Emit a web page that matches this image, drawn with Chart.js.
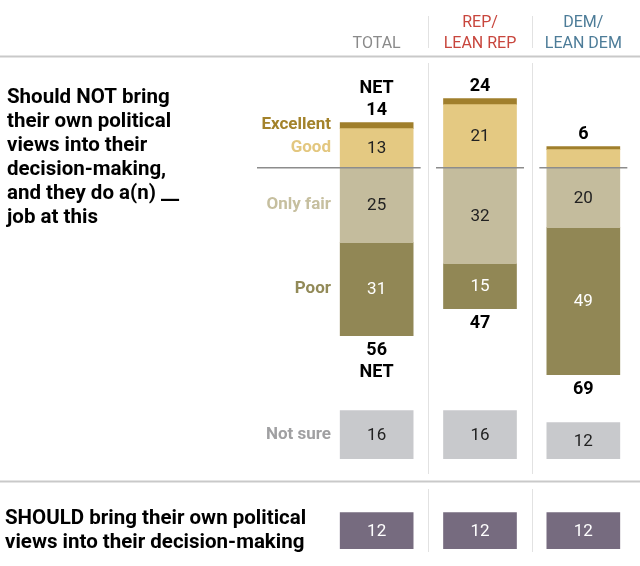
<!DOCTYPE html>
<html>
<head>
<meta charset="utf-8">
<script src="https://cdn.jsdelivr.net/npm/chart.js@4/dist/chart.umd.min.js"></script>
<style>
  html, body { margin: 0; padding: 0; background: #fff; }
  #wrap { width: 640px; height: 566px; }
</style>
</head>
<body>
<div id="wrap"><canvas id="chart" width="640" height="566"></canvas></div>
<script>
// ─── DADOS ────────────────────────────────────────────────────────────────
const groups      = ['TOTAL', 'REP/\nLEAN REP', 'DEM/\nLEAN DEM'];
const excellent   = [2, 2, 1];
const good        = [13, 21, 6];
const onlyFair    = [25, 32, 20];
const poor        = [31, 15, 49];
const netGood     = [14, 24, 6];
const netBad      = [56, 47, 69];
const notSure     = [16, 16, 12];
const shouldBring = [12, 12, 12];

const questionLines = ['Should NOT bring', 'their own political', 'views into their',
                       'decision-making,', 'and they do a(n) __', 'job at this'];
const shouldLines   = ['SHOULD bring their own political', 'views into their decision-making'];

// ─── LAYOUT / ESTILO ──────────────────────────────────────────────────────
const Y_MAX = 55.9, Y_MIN = -132.8;       // escala: 3px por ponto, zero em y≈168
const NOT_SURE_BASE = -97;
const SHOULD_BASE   = -127;
const BAR_W = 73;
const FONT = 'Roboto, "Noto Sans", sans-serif';
const headColors = ['#8a8a8a', '#c8463d', '#4d7c98'];
const C = {
  excellent: '#a07f2c', good: '#e4c982', fair: '#c4bc9d', poor: '#918755',
  notSure: '#c8c9cc', should: '#766b7f', grid: '#e2e2e2', rule: '#c9c9c9', base: '#8c8c8c',
};

const floating = (arr, fn) => arr.map(fn);
const common = { grouped: false, barThickness: BAR_W, borderWidth: 0, borderSkipped: false };

const datasets = [
  { ...common, key: 'good',      backgroundColor: C.good,      labelColor: '#222',
    data: floating(good, v => [0, v]) },
  { ...common, key: 'excellent', backgroundColor: C.excellent, labelColor: null,
    data: floating(good, (g, i) => [g, g + excellent[i]]) },
  { ...common, key: 'fair',      backgroundColor: C.fair,      labelColor: '#222',
    data: floating(onlyFair, v => [-v, 0]) },
  { ...common, key: 'poor',      backgroundColor: C.poor,      labelColor: '#fff',
    data: floating(poor, (p, i) => [-onlyFair[i] - p, -onlyFair[i]]) },
  { ...common, key: 'notSure',   backgroundColor: C.notSure,   labelColor: '#222',
    data: floating(notSure, v => [NOT_SURE_BASE, NOT_SURE_BASE + v]) },
  { ...common, key: 'should',    backgroundColor: C.should,    labelColor: '#fff',
    data: floating(shouldBring, v => [SHOULD_BASE, SHOULD_BASE + v]) },
];
const valueOf = [good, excellent, onlyFair, poor, notSure, shouldBring];

// ─── HELPERS ──────────────────────────────────────────────────────────────
function line(ctx, x1, y1, x2, y2, color, w) {
  ctx.beginPath();
  ctx.strokeStyle = color;
  ctx.lineWidth = w;
  ctx.moveTo(x1, y1);
  ctx.lineTo(x2, y2);
  ctx.stroke();
}
function text(ctx, s, x, y, font, color, align, base) {
  ctx.font = font;
  ctx.fillStyle = color;
  ctx.textAlign = align || 'center';
  ctx.textBaseline = base || 'middle';
  ctx.fillText(s, x, y);
}
const bar = (chart, di, i) => chart.getDatasetMeta(di).data[i];

// ─── PLUGIN: moldura, cabeçalho, rótulos ─────────────────────────────────
const decor = {
  id: 'decor',
  beforeDatasetsDraw(chart) {
    const ctx = chart.ctx, xs = chart.scales.x;
    const cx = groups.map((g, i) => xs.getPixelForValue(i));
    ctx.save();
    // separadores verticais
    for (let i = 0; i < cx.length - 1; i++) {
      const mx = Math.round((cx[i] + cx[i + 1]) / 2) + 0.5;
      line(ctx, mx, 16, mx, 48, C.grid, 1);
      line(ctx, mx, 63, mx, 474, C.grid, 1);
      line(ctx, mx, 489, mx, 552, C.grid, 1);
    }
    // linhas horizontais
    line(ctx, 0, 56.5, 640, 56.5, C.rule, 2);
    line(ctx, 0, 481.5, 640, 481.5, C.rule, 2);
    // cabeçalho
    groups.forEach((g, i) => {
      const parts = g.split('\n');
      parts.forEach((p, k) => {
        const y = 48 - (parts.length - 1 - k) * 21;
        text(ctx, p, cx[i], y, `16px ${FONT}`, headColors[i], 'center', 'alphabetic');
      });
    });
    ctx.restore();
  },
  afterDatasetsDraw(chart) {
    const ctx = chart.ctx, xs = chart.scales.x, ys = chart.scales.y;
    const y0 = ys.getPixelForValue(0);
    ctx.save();
    // linha de base de cada coluna
    groups.forEach((g, i) => {
      const x = xs.getPixelForValue(i);
      line(ctx, i === 0 ? 257 : x - 44, y0, x + 44, y0, C.base, 1.5);
    });
    // valores dentro das barras
    chart.data.datasets.forEach((ds, di) => {
      if (!ds.labelColor) return;
      chart.getDatasetMeta(di).data.forEach((el, i) => {
        const v = valueOf[di][i];
        if (v < 8) return;
        text(ctx, String(v), el.x, (el.y + el.base) / 2 + 1, `17px ${FONT}`, ds.labelColor);
      });
    });
    // NET
    const bold = `bold 18px ${FONT}`;
    groups.forEach((g, i) => {
      const top = bar(chart, 1, i), bot = bar(chart, 3, i);
      text(ctx, String(netGood[i]), top.x, top.y - 12.5, bold, '#000');
      text(ctx, String(netBad[i]), bot.x, bot.y + 15, bold, '#000');
      if (i === 0) {
        text(ctx, 'NET', top.x, top.y - 34, bold, '#000');
        text(ctx, 'NET', bot.x, bot.y + 37, bold, '#000');
      }
    });
    // rótulos das categorias (à esquerda da coluna TOTAL)
    const lf = `bold 17px ${FONT}`, lx = 331;
    const mid = el => (el.y + el.base) / 2;
    text(ctx, 'Excellent', lx, bar(chart, 1, 0).y + 2.5, lf, '#a3822a', 'right');
    text(ctx, 'Good',      lx, mid(bar(chart, 0, 0)), lf, '#e3c77f', 'right');
    text(ctx, 'Only fair', lx, mid(bar(chart, 2, 0)), lf, '#c6bf9f', 'right');
    text(ctx, 'Poor',      lx, mid(bar(chart, 3, 0)), lf, '#928a58', 'right');
    text(ctx, 'Not sure',  lx, mid(bar(chart, 4, 0)), lf, '#a0a0a2', 'right');
    // textos grandes da esquerda
    const big = `bold 20.5px ${FONT}`;
    questionLines.forEach((s, k) => text(ctx, s, 7, 103 + k * 24, big, '#000', 'left', 'alphabetic'));
    shouldLines.forEach((s, k) => text(ctx, s, 5, 524 + k * 23.5, big, '#000', 'left', 'alphabetic'));
    ctx.restore();
  },
};

new Chart(document.getElementById('chart'), {
  type: 'bar',
  data: { labels: groups, datasets },
  options: {
    responsive: false,
    animation: false,
    events: [],
    layout: { padding: { left: 325, right: 5, top: 0, bottom: 0 } },
    plugins: { legend: { display: false }, tooltip: { enabled: false } },
    scales: {
      x: { display: false, grid: { display: false } },
      y: { display: false, min: Y_MIN, max: Y_MAX, grid: { display: false } },
    },
  },
  plugins: [decor],
});
</script>
</body>
</html>
